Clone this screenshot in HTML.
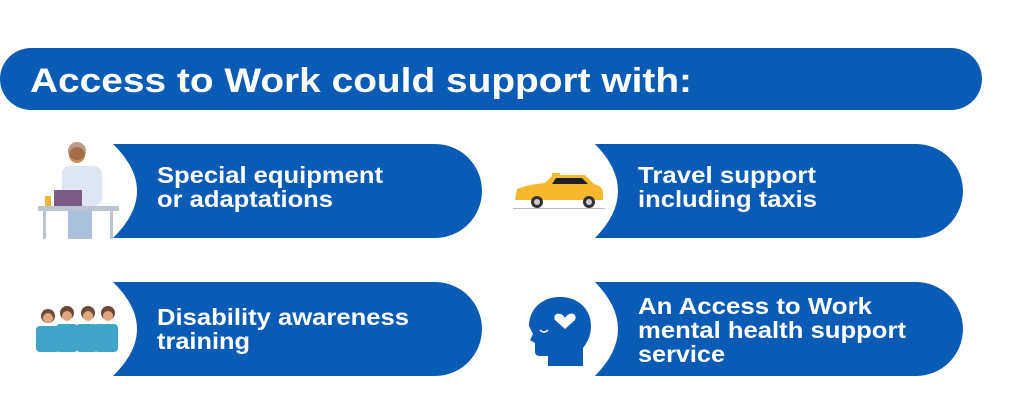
<!DOCTYPE html>
<html><head><meta charset="utf-8"><style>
html,body{margin:0;padding:0;background:#fff;width:1024px;height:409px;overflow:hidden}
text{font-family:"Liberation Sans",Arial,sans-serif;font-weight:bold;fill:#fff}
</style></head><body>
<svg width="1024" height="409" viewBox="0 0 1024 409" xmlns="http://www.w3.org/2000/svg">
<rect x="0" y="48" width="982" height="62" rx="31" fill="#0a5bb5"/>
<text x="30" y="92" font-size="34" textLength="662" lengthAdjust="spacingAndGlyphs">Access to Work could support with:</text>

<g fill="#0a5bb5">
<path d="M113,144 L435,144 A47,47 0 0 1 435,238 L113,238 Q161,191 113,144Z"/>
<path d="M113,282 L435,282 A47,47 0 0 1 435,376 L113,376 Q161,329 113,282Z"/>
<path d="M595,144 L916,144 A47,47 0 0 1 916,238 L595,238 Q641,191 595,144Z"/>
<path d="M595,282 L916,282 A47,47 0 0 1 916,376 L595,376 Q641,329 595,282Z"/>
</g>

<text x="157" y="183" font-size="23" textLength="226" lengthAdjust="spacingAndGlyphs">Special equipment</text>
<text x="157" y="207" font-size="23" textLength="176" lengthAdjust="spacingAndGlyphs">or adaptations</text>
<text x="157" y="325" font-size="23" textLength="252" lengthAdjust="spacingAndGlyphs">Disability awareness</text>
<text x="157" y="349" font-size="23" textLength="93" lengthAdjust="spacingAndGlyphs">training</text>
<text x="638" y="183" font-size="23" textLength="178" lengthAdjust="spacingAndGlyphs">Travel support</text>
<text x="638" y="207" font-size="23" textLength="179" lengthAdjust="spacingAndGlyphs">including taxis</text>
<text x="638" y="314" font-size="23" textLength="234" lengthAdjust="spacingAndGlyphs">An Access to Work</text>
<text x="638" y="338" font-size="23" textLength="268" lengthAdjust="spacingAndGlyphs">mental health support</text>
<text x="638" y="362" font-size="23" textLength="87" lengthAdjust="spacingAndGlyphs">service</text>

<!-- doctor -->
<g>
<rect x="62" y="166" width="40" height="40" rx="8" fill="#dde6f2"/>
<circle cx="77" cy="155" r="8" fill="#c98b5a"/>
<circle cx="77" cy="151" r="9" fill="#8a5a3a" opacity="0.6"/>
<rect x="54" y="190" width="28" height="18" fill="#7a5b86"/>
<rect x="38" y="206" width="81" height="5" fill="#bcc4cf"/>
<rect x="43" y="211" width="3" height="28" fill="#bcc4cf"/>
<rect x="110" y="211" width="3" height="28" fill="#bcc4cf"/>
<rect x="68" y="211" width="24" height="28" fill="#aac0dd"/>
<rect x="45" y="196" width="6" height="10" fill="#f0b63c"/>
</g>
<!-- nurses -->
<g fill="#3ea5c9">
<rect x="36" y="326" width="24" height="26" rx="4"/>
<rect x="56" y="324" width="22" height="28" rx="4"/>
<rect x="76" y="324" width="22" height="28" rx="4"/>
<rect x="94" y="324" width="24" height="28" rx="4"/>
</g>
<g fill="#6b4a3a">
<circle cx="48" cy="316" r="7"/><circle cx="67" cy="313" r="7"/><circle cx="88" cy="313" r="7"/><circle cx="108" cy="313" r="7"/>
</g>
<g fill="#e0a77e">
<circle cx="48" cy="318" r="5"/><circle cx="67" cy="316" r="5"/><circle cx="88" cy="316" r="5"/><circle cx="108" cy="316" r="5"/>
</g>
<!-- taxi -->
<g>
<path d="M515,200 L517,189 Q530,184 545,183 L553,175 L585,175 L594,184 Q603,186 603,193 L603,200 Z" fill="#f5b82e"/>
<rect x="552" y="173" width="8" height="4" fill="#f5b82e"/>
<path d="M556,178 L582,178 L588,184 L552,184Z" fill="#222"/>
<circle cx="537" cy="202" r="6" fill="#333"/><circle cx="537" cy="202" r="3" fill="#ccc"/>
<circle cx="589" cy="202" r="6" fill="#333"/><circle cx="589" cy="202" r="3" fill="#ccc"/>
<rect x="513" y="208" width="92" height="1" fill="#bbb"/>
</g>
<!-- head -->
<path d="M560,297 C541,297 529,310 529,326 L533,334 L530,340 L535,343 L535,352 Q535,356 540,356 L548,356 L548,366 L583,366 L583,348 Q591,338 591,326 C591,309 578,297 560,297Z" fill="#0a5bb5"/>
<path d="M565,318 C561,311 552,313 555,320 L565,329 L575,320 C578,313 569,311 565,318Z" fill="#fff"/>
<path d="M540,330 Q544,334 548,330" stroke="#fff" stroke-width="1.5" fill="none"/>
</svg>
</body></html>
